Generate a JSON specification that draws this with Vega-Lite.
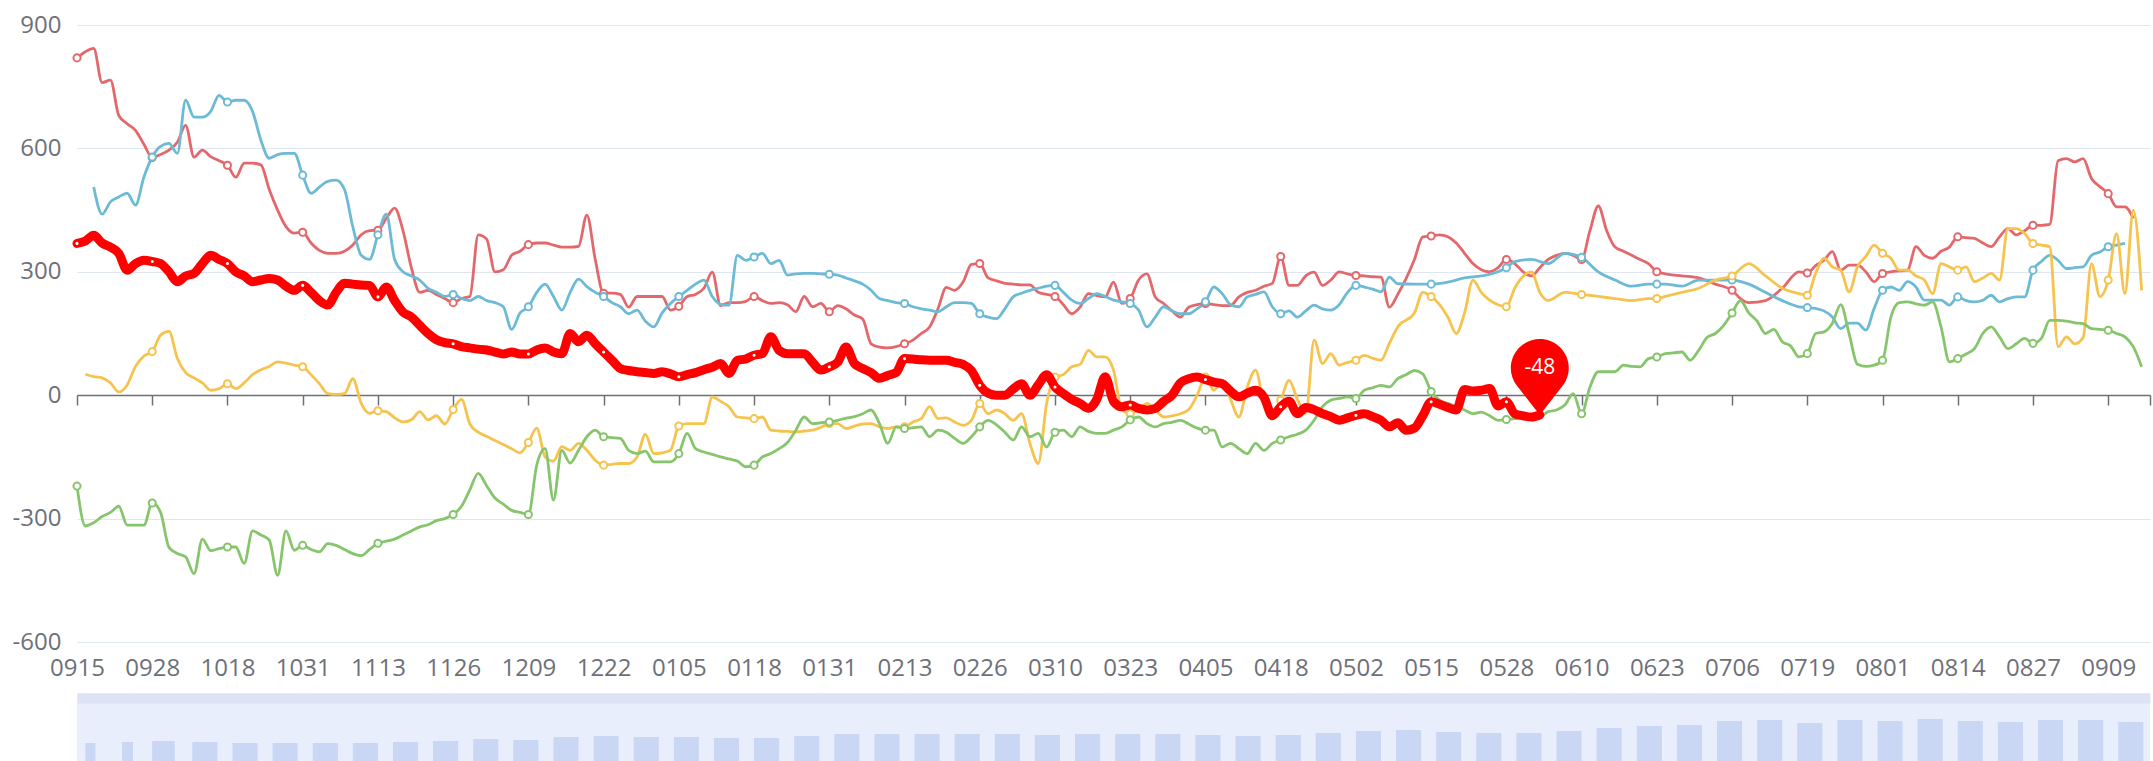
{
"$schema":"https://vega.github.io/schema/vega-lite/v6.json",
"background":"white",
"padding":{"left":0,"top":13,"right":3,"bottom":0},
"config":{"view":{"stroke":null},"font":"Open Sans","axis":{"labelFont":"Open Sans","labelColor":"#6e7079","labelFontSize":24}},
"datasets":{
"A":[{"i":0,"v":820},{"i":1,"v":835},{"i":2,"v":843},{"i":3,"v":760},{"i":4,"v":766},{"i":5,"v":680},{"i":6,"v":660},{"i":7,"v":644},{"i":8,"v":610},{"i":9,"v":578},{"i":10,"v":585},{"i":11,"v":596},{"i":12,"v":615},{"i":13,"v":656},{"i":14,"v":579},{"i":15,"v":596},{"i":16,"v":580},{"i":17,"v":570},{"i":18,"v":559},{"i":19,"v":530},{"i":20,"v":564},{"i":21,"v":564},{"i":22,"v":560},{"i":23,"v":500},{"i":24,"v":450},{"i":25,"v":410},{"i":26,"v":394},{"i":27,"v":396},{"i":28,"v":370},{"i":29,"v":352},{"i":30,"v":345},{"i":31,"v":345},{"i":32,"v":350},{"i":33,"v":365},{"i":34,"v":390},{"i":35,"v":400},{"i":36,"v":401},{"i":37,"v":430},{"i":38,"v":455},{"i":39,"v":400},{"i":40,"v":310},{"i":41,"v":250},{"i":42,"v":255},{"i":43,"v":245},{"i":44,"v":235},{"i":45,"v":225},{"i":46,"v":235},{"i":47,"v":240},{"i":48,"v":390},{"i":49,"v":380},{"i":50,"v":300},{"i":51,"v":305},{"i":52,"v":340},{"i":53,"v":350},{"i":54,"v":366},{"i":55,"v":370},{"i":56,"v":370},{"i":57,"v":365},{"i":58,"v":360},{"i":59,"v":360},{"i":60,"v":362},{"i":61,"v":438},{"i":62,"v":330},{"i":63,"v":248},{"i":64,"v":248},{"i":65,"v":245},{"i":66,"v":214},{"i":67,"v":240},{"i":68,"v":240},{"i":69,"v":240},{"i":70,"v":240},{"i":71,"v":207},{"i":72,"v":216},{"i":73,"v":240},{"i":74,"v":245},{"i":75,"v":260},{"i":76,"v":299},{"i":77,"v":218},{"i":78,"v":225},{"i":79,"v":225},{"i":80,"v":228},{"i":81,"v":240},{"i":82,"v":230},{"i":83,"v":223},{"i":84,"v":225},{"i":85,"v":220},{"i":86,"v":203},{"i":87,"v":240},{"i":88,"v":215},{"i":89,"v":223},{"i":90,"v":203},{"i":91,"v":218},{"i":92,"v":210},{"i":93,"v":195},{"i":94,"v":185},{"i":95,"v":125},{"i":96,"v":117},{"i":97,"v":115},{"i":98,"v":118},{"i":99,"v":125},{"i":100,"v":134},{"i":101,"v":150},{"i":102,"v":166},{"i":103,"v":210},{"i":104,"v":262},{"i":105,"v":255},{"i":106,"v":275},{"i":107,"v":318},{"i":108,"v":320},{"i":109,"v":285},{"i":110,"v":278},{"i":111,"v":272},{"i":112,"v":270},{"i":113,"v":268},{"i":114,"v":268},{"i":115,"v":250},{"i":116,"v":245},{"i":117,"v":240},{"i":118,"v":220},{"i":119,"v":198},{"i":120,"v":214},{"i":121,"v":247},{"i":122,"v":242},{"i":123,"v":239},{"i":124,"v":275},{"i":125,"v":223},{"i":126,"v":235},{"i":127,"v":280},{"i":128,"v":295},{"i":129,"v":239},{"i":130,"v":223},{"i":131,"v":205},{"i":132,"v":190},{"i":133,"v":214},{"i":134,"v":220},{"i":135,"v":223},{"i":136,"v":220},{"i":137,"v":218},{"i":138,"v":218},{"i":139,"v":239},{"i":140,"v":250},{"i":141,"v":255},{"i":142,"v":265},{"i":143,"v":272},{"i":144,"v":337},{"i":145,"v":267},{"i":146,"v":267},{"i":147,"v":290},{"i":148,"v":299},{"i":149,"v":267},{"i":150,"v":280},{"i":151,"v":300},{"i":152,"v":295},{"i":153,"v":291},{"i":154,"v":290},{"i":155,"v":288},{"i":156,"v":287},{"i":157,"v":214},{"i":158,"v":245},{"i":160,"v":330},{"i":161,"v":385},{"i":162,"v":387},{"i":163,"v":390},{"i":164,"v":385},{"i":165,"v":370},{"i":166,"v":345},{"i":167,"v":320},{"i":168,"v":305},{"i":169,"v":300},{"i":170,"v":310},{"i":171,"v":330},{"i":172,"v":320},{"i":173,"v":300},{"i":174,"v":290},{"i":175,"v":310},{"i":176,"v":330},{"i":177,"v":340},{"i":178,"v":345},{"i":179,"v":340},{"i":180,"v":330},{"i":181,"v":400},{"i":182,"v":460},{"i":183,"v":400},{"i":184,"v":360},{"i":185,"v":350},{"i":186,"v":340},{"i":187,"v":330},{"i":188,"v":320},{"i":189,"v":300},{"i":190,"v":295},{"i":192,"v":290},{"i":194,"v":285},{"i":196,"v":270},{"i":198,"v":255},{"i":199,"v":235},{"i":200,"v":225},{"i":202,"v":230},{"i":204,"v":260},{"i":206,"v":300},{"i":207,"v":297},{"i":208,"v":315},{"i":209,"v":328},{"i":210,"v":349},{"i":211,"v":304},{"i":212,"v":316},{"i":213,"v":316},{"i":214,"v":300},{"i":215,"v":276},{"i":216,"v":296},{"i":217,"v":300},{"i":218,"v":302},{"i":219,"v":304},{"i":220,"v":361},{"i":221,"v":340},{"i":222,"v":333},{"i":223,"v":350},{"i":224,"v":360},{"i":225,"v":385},{"i":226,"v":383},{"i":227,"v":381},{"i":228,"v":370},{"i":229,"v":361},{"i":230,"v":385},{"i":231,"v":405},{"i":232,"v":390},{"i":233,"v":400},{"i":234,"v":413},{"i":235,"v":413},{"i":236,"v":415},{"i":237,"v":570},{"i":238,"v":575},{"i":239,"v":567},{"i":240,"v":575},{"i":241,"v":527},{"i":242,"v":507},{"i":243,"v":490},{"i":244,"v":458},{"i":245,"v":458},{"i":246,"v":430}],
"B":[{"i":2,"v":506},{"i":3,"v":440},{"i":4,"v":470},{"i":5,"v":482},{"i":6,"v":491},{"i":7,"v":462},{"i":8,"v":530},{"i":9,"v":579},{"i":10,"v":605},{"i":11,"v":612},{"i":12,"v":588},{"i":13,"v":717},{"i":14,"v":676},{"i":15,"v":676},{"i":16,"v":690},{"i":17,"v":729},{"i":18,"v":713},{"i":19,"v":717},{"i":20,"v":717},{"i":21,"v":690},{"i":22,"v":620},{"i":23,"v":576},{"i":24,"v":585},{"i":25,"v":588},{"i":26,"v":588},{"i":27,"v":535},{"i":28,"v":491},{"i":29,"v":506},{"i":30,"v":520},{"i":31,"v":523},{"i":32,"v":500},{"i":33,"v":409},{"i":34,"v":340},{"i":35,"v":330},{"i":36,"v":390},{"i":37,"v":440},{"i":38,"v":330},{"i":39,"v":300},{"i":40,"v":290},{"i":41,"v":280},{"i":42,"v":260},{"i":43,"v":250},{"i":44,"v":240},{"i":45,"v":245},{"i":46,"v":235},{"i":47,"v":230},{"i":48,"v":240},{"i":49,"v":230},{"i":50,"v":225},{"i":51,"v":215},{"i":52,"v":160},{"i":53,"v":200},{"i":54,"v":215},{"i":55,"v":250},{"i":56,"v":270},{"i":57,"v":240},{"i":58,"v":207},{"i":59,"v":250},{"i":60,"v":282},{"i":61,"v":264},{"i":62,"v":250},{"i":63,"v":240},{"i":64,"v":225},{"i":65,"v":215},{"i":66,"v":198},{"i":67,"v":207},{"i":68,"v":180},{"i":69,"v":166},{"i":70,"v":200},{"i":71,"v":223},{"i":72,"v":240},{"i":73,"v":255},{"i":74,"v":270},{"i":75,"v":280},{"i":76,"v":240},{"i":77,"v":221},{"i":78,"v":219},{"i":79,"v":340},{"i":80,"v":328},{"i":81,"v":336},{"i":82,"v":345},{"i":83,"v":320},{"i":84,"v":328},{"i":85,"v":292},{"i":86,"v":295},{"i":87,"v":296},{"i":88,"v":296},{"i":89,"v":295},{"i":90,"v":294},{"i":91,"v":292},{"i":92,"v":285},{"i":93,"v":278},{"i":94,"v":270},{"i":95,"v":255},{"i":96,"v":235},{"i":97,"v":230},{"i":98,"v":225},{"i":99,"v":223},{"i":100,"v":215},{"i":101,"v":210},{"i":102,"v":207},{"i":103,"v":203},{"i":104,"v":215},{"i":105,"v":225},{"i":106,"v":225},{"i":107,"v":223},{"i":108,"v":198},{"i":109,"v":190},{"i":110,"v":186},{"i":111,"v":210},{"i":112,"v":239},{"i":113,"v":248},{"i":114,"v":255},{"i":115,"v":260},{"i":116,"v":265},{"i":117,"v":267},{"i":118,"v":250},{"i":119,"v":231},{"i":120,"v":223},{"i":121,"v":235},{"i":122,"v":247},{"i":123,"v":240},{"i":124,"v":231},{"i":125,"v":227},{"i":126,"v":223},{"i":127,"v":207},{"i":128,"v":166},{"i":129,"v":190},{"i":130,"v":215},{"i":131,"v":205},{"i":132,"v":198},{"i":133,"v":198},{"i":134,"v":210},{"i":135,"v":227},{"i":136,"v":263},{"i":137,"v":247},{"i":138,"v":220},{"i":139,"v":215},{"i":140,"v":239},{"i":141,"v":245},{"i":142,"v":251},{"i":143,"v":215},{"i":144,"v":198},{"i":145,"v":205},{"i":146,"v":190},{"i":147,"v":205},{"i":148,"v":219},{"i":149,"v":210},{"i":150,"v":207},{"i":151,"v":220},{"i":152,"v":250},{"i":153,"v":267},{"i":154,"v":263},{"i":155,"v":258},{"i":156,"v":251},{"i":157,"v":287},{"i":158,"v":271},{"i":160,"v":270},{"i":162,"v":270},{"i":164,"v":275},{"i":166,"v":285},{"i":168,"v":290},{"i":170,"v":300},{"i":171,"v":310},{"i":172,"v":325},{"i":174,"v":330},{"i":176,"v":320},{"i":178,"v":345},{"i":180,"v":335},{"i":182,"v":300},{"i":184,"v":280},{"i":186,"v":265},{"i":188,"v":270},{"i":189,"v":270},{"i":190,"v":270},{"i":192,"v":265},{"i":194,"v":280},{"i":196,"v":280},{"i":198,"v":280},{"i":200,"v":270},{"i":202,"v":250},{"i":204,"v":230},{"i":206,"v":215},{"i":207,"v":213},{"i":208,"v":211},{"i":209,"v":205},{"i":210,"v":190},{"i":211,"v":162},{"i":212,"v":175},{"i":213,"v":175},{"i":214,"v":158},{"i":215,"v":211},{"i":216,"v":255},{"i":217,"v":263},{"i":218,"v":255},{"i":219,"v":276},{"i":220,"v":263},{"i":221,"v":231},{"i":222,"v":231},{"i":223,"v":231},{"i":224,"v":219},{"i":225,"v":239},{"i":226,"v":230},{"i":227,"v":227},{"i":228,"v":231},{"i":229,"v":243},{"i":230,"v":227},{"i":231,"v":235},{"i":232,"v":239},{"i":233,"v":239},{"i":234,"v":304},{"i":235,"v":325},{"i":236,"v":340},{"i":237,"v":328},{"i":238,"v":308},{"i":239,"v":310},{"i":240,"v":312},{"i":241,"v":340},{"i":242,"v":348},{"i":243,"v":361},{"i":244,"v":365},{"i":245,"v":369}],
"C":[{"i":1,"v":51},{"i":2,"v":45},{"i":3,"v":42},{"i":4,"v":30},{"i":5,"v":8},{"i":6,"v":25},{"i":7,"v":70},{"i":8,"v":95},{"i":9,"v":106},{"i":10,"v":146},{"i":11,"v":155},{"i":12,"v":90},{"i":13,"v":55},{"i":14,"v":42},{"i":15,"v":30},{"i":16,"v":12},{"i":17,"v":16},{"i":18,"v":28},{"i":19,"v":16},{"i":20,"v":30},{"i":21,"v":50},{"i":22,"v":62},{"i":23,"v":70},{"i":24,"v":81},{"i":25,"v":78},{"i":26,"v":73},{"i":27,"v":69},{"i":28,"v":50},{"i":29,"v":28},{"i":30,"v":4},{"i":31,"v":2},{"i":32,"v":4},{"i":33,"v":40},{"i":34,"v":-20},{"i":35,"v":-44},{"i":36,"v":-38},{"i":37,"v":-40},{"i":38,"v":-55},{"i":39,"v":-65},{"i":40,"v":-60},{"i":41,"v":-40},{"i":42,"v":-60},{"i":43,"v":-50},{"i":44,"v":-70},{"i":45,"v":-35},{"i":46,"v":-10},{"i":47,"v":-70},{"i":48,"v":-90},{"i":49,"v":-100},{"i":50,"v":-110},{"i":51,"v":-120},{"i":52,"v":-130},{"i":53,"v":-140},{"i":54,"v":-115},{"i":55,"v":-80},{"i":56,"v":-150},{"i":57,"v":-160},{"i":58,"v":-125},{"i":59,"v":-134},{"i":60,"v":-117},{"i":61,"v":-134},{"i":62,"v":-158},{"i":63,"v":-170},{"i":64,"v":-168},{"i":65,"v":-166},{"i":66,"v":-166},{"i":67,"v":-150},{"i":68,"v":-95},{"i":69,"v":-142},{"i":70,"v":-140},{"i":71,"v":-134},{"i":72,"v":-75},{"i":73,"v":-69},{"i":74,"v":-69},{"i":75,"v":-69},{"i":76,"v":-4},{"i":77,"v":-15},{"i":78,"v":-28},{"i":79,"v":-53},{"i":80,"v":-55},{"i":81,"v":-57},{"i":82,"v":-53},{"i":83,"v":-85},{"i":84,"v":-87},{"i":85,"v":-88},{"i":86,"v":-89},{"i":87,"v":-87},{"i":88,"v":-85},{"i":89,"v":-78},{"i":90,"v":-69},{"i":91,"v":-69},{"i":92,"v":-81},{"i":93,"v":-75},{"i":94,"v":-70},{"i":95,"v":-69},{"i":96,"v":-77},{"i":97,"v":-81},{"i":98,"v":-77},{"i":99,"v":-77},{"i":100,"v":-65},{"i":101,"v":-57},{"i":102,"v":-28},{"i":103,"v":-57},{"i":104,"v":-55},{"i":105,"v":-65},{"i":106,"v":-73},{"i":107,"v":-61},{"i":108,"v":-20},{"i":109,"v":-45},{"i":110,"v":-36},{"i":111,"v":-45},{"i":112,"v":-61},{"i":113,"v":-45},{"i":114,"v":-117},{"i":115,"v":-166},{"i":116,"v":-20},{"i":117,"v":44},{"i":118,"v":50},{"i":119,"v":69},{"i":120,"v":75},{"i":121,"v":109},{"i":122,"v":93},{"i":123,"v":93},{"i":124,"v":61},{"i":125,"v":-36},{"i":126,"v":-45},{"i":127,"v":-35},{"i":128,"v":-20},{"i":129,"v":-35},{"i":130,"v":-53},{"i":131,"v":-50},{"i":132,"v":-45},{"i":133,"v":-35},{"i":134,"v":0},{"i":135,"v":44},{"i":136,"v":12},{"i":137,"v":36},{"i":138,"v":-10},{"i":139,"v":-53},{"i":140,"v":20},{"i":141,"v":61},{"i":142,"v":-20},{"i":143,"v":-45},{"i":144,"v":-12},{"i":145,"v":36},{"i":146,"v":-10},{"i":147,"v":-45},{"i":148,"v":134},{"i":149,"v":77},{"i":150,"v":101},{"i":151,"v":73},{"i":152,"v":80},{"i":153,"v":85},{"i":154,"v":97},{"i":155,"v":90},{"i":156,"v":85},{"i":157,"v":126},{"i":158,"v":166},{"i":160,"v":200},{"i":161,"v":250},{"i":162,"v":240},{"i":164,"v":190},{"i":165,"v":150},{"i":166,"v":200},{"i":167,"v":280},{"i":168,"v":250},{"i":170,"v":220},{"i":171,"v":215},{"i":172,"v":260},{"i":174,"v":300},{"i":175,"v":250},{"i":176,"v":230},{"i":178,"v":250},{"i":180,"v":245},{"i":182,"v":240},{"i":184,"v":235},{"i":186,"v":230},{"i":188,"v":235},{"i":189,"v":235},{"i":190,"v":240},{"i":192,"v":250},{"i":194,"v":260},{"i":196,"v":280},{"i":198,"v":290},{"i":200,"v":320},{"i":202,"v":290},{"i":204,"v":260},{"i":206,"v":247},{"i":207,"v":243},{"i":208,"v":296},{"i":209,"v":333},{"i":210,"v":312},{"i":211,"v":304},{"i":212,"v":251},{"i":213,"v":312},{"i":214,"v":337},{"i":215,"v":365},{"i":216,"v":345},{"i":217,"v":333},{"i":218,"v":304},{"i":219,"v":304},{"i":220,"v":290},{"i":221,"v":280},{"i":222,"v":247},{"i":223,"v":320},{"i":224,"v":312},{"i":225,"v":304},{"i":226,"v":312},{"i":227,"v":276},{"i":228,"v":285},{"i":229,"v":296},{"i":230,"v":280},{"i":231,"v":405},{"i":232,"v":405},{"i":233,"v":393},{"i":234,"v":369},{"i":235,"v":365},{"i":236,"v":361},{"i":237,"v":118},{"i":238,"v":142},{"i":239,"v":125},{"i":240,"v":140},{"i":241,"v":320},{"i":242,"v":240},{"i":243,"v":280},{"i":244,"v":393},{"i":245,"v":247},{"i":246,"v":450},{"i":247,"v":255}],
"D":[{"i":0,"v":-221},{"i":1,"v":-318},{"i":2,"v":-310},{"i":3,"v":-295},{"i":4,"v":-285},{"i":5,"v":-270},{"i":6,"v":-316},{"i":7,"v":-316},{"i":8,"v":-316},{"i":9,"v":-262},{"i":10,"v":-285},{"i":11,"v":-370},{"i":12,"v":-385},{"i":13,"v":-393},{"i":14,"v":-434},{"i":15,"v":-350},{"i":16,"v":-378},{"i":17,"v":-373},{"i":18,"v":-369},{"i":19,"v":-369},{"i":20,"v":-409},{"i":21,"v":-330},{"i":22,"v":-340},{"i":23,"v":-352},{"i":24,"v":-438},{"i":25,"v":-330},{"i":26,"v":-377},{"i":27,"v":-365},{"i":28,"v":-375},{"i":29,"v":-381},{"i":30,"v":-361},{"i":31,"v":-365},{"i":32,"v":-375},{"i":33,"v":-385},{"i":34,"v":-390},{"i":35,"v":-375},{"i":36,"v":-360},{"i":37,"v":-355},{"i":38,"v":-350},{"i":39,"v":-340},{"i":40,"v":-330},{"i":41,"v":-320},{"i":42,"v":-315},{"i":43,"v":-305},{"i":44,"v":-300},{"i":45,"v":-290},{"i":46,"v":-270},{"i":47,"v":-230},{"i":48,"v":-190},{"i":49,"v":-220},{"i":50,"v":-250},{"i":51,"v":-265},{"i":52,"v":-280},{"i":53,"v":-285},{"i":54,"v":-290},{"i":55,"v":-170},{"i":56,"v":-130},{"i":57,"v":-255},{"i":58,"v":-134},{"i":59,"v":-165},{"i":60,"v":-134},{"i":61,"v":-101},{"i":62,"v":-85},{"i":63,"v":-101},{"i":64,"v":-103},{"i":65,"v":-105},{"i":66,"v":-134},{"i":67,"v":-142},{"i":68,"v":-136},{"i":69,"v":-162},{"i":70,"v":-162},{"i":71,"v":-162},{"i":72,"v":-142},{"i":73,"v":-93},{"i":74,"v":-130},{"i":75,"v":-138},{"i":76,"v":-144},{"i":77,"v":-150},{"i":78,"v":-155},{"i":79,"v":-160},{"i":80,"v":-174},{"i":81,"v":-170},{"i":82,"v":-150},{"i":83,"v":-142},{"i":84,"v":-130},{"i":85,"v":-115},{"i":86,"v":-85},{"i":87,"v":-53},{"i":88,"v":-69},{"i":89,"v":-67},{"i":90,"v":-65},{"i":91,"v":-61},{"i":92,"v":-56},{"i":93,"v":-52},{"i":94,"v":-45},{"i":95,"v":-36},{"i":96,"v":-69},{"i":97,"v":-117},{"i":98,"v":-77},{"i":99,"v":-81},{"i":100,"v":-79},{"i":101,"v":-77},{"i":102,"v":-101},{"i":103,"v":-85},{"i":104,"v":-90},{"i":105,"v":-105},{"i":106,"v":-117},{"i":107,"v":-101},{"i":108,"v":-77},{"i":109,"v":-61},{"i":110,"v":-72},{"i":111,"v":-90},{"i":112,"v":-109},{"i":113,"v":-77},{"i":114,"v":-101},{"i":115,"v":-93},{"i":116,"v":-126},{"i":117,"v":-90},{"i":118,"v":-85},{"i":119,"v":-101},{"i":120,"v":-77},{"i":121,"v":-88},{"i":122,"v":-93},{"i":123,"v":-93},{"i":124,"v":-85},{"i":125,"v":-77},{"i":126,"v":-60},{"i":127,"v":-53},{"i":128,"v":-69},{"i":129,"v":-77},{"i":130,"v":-69},{"i":131,"v":-66},{"i":132,"v":-61},{"i":133,"v":-70},{"i":134,"v":-80},{"i":135,"v":-85},{"i":136,"v":-85},{"i":137,"v":-126},{"i":138,"v":-117},{"i":139,"v":-130},{"i":140,"v":-142},{"i":141,"v":-117},{"i":142,"v":-134},{"i":143,"v":-117},{"i":144,"v":-109},{"i":145,"v":-101},{"i":146,"v":-95},{"i":147,"v":-85},{"i":148,"v":-61},{"i":149,"v":-28},{"i":150,"v":-12},{"i":151,"v":-8},{"i":152,"v":-4},{"i":153,"v":-8},{"i":154,"v":12},{"i":155,"v":18},{"i":156,"v":24},{"i":157,"v":20},{"i":158,"v":40},{"i":159,"v":50},{"i":160,"v":60},{"i":161,"v":52},{"i":162,"v":9},{"i":163,"v":-12},{"i":164,"v":-20},{"i":165,"v":-28},{"i":166,"v":-36},{"i":167,"v":-45},{"i":168,"v":-41},{"i":169,"v":-50},{"i":170,"v":-61},{"i":171,"v":-59},{"i":172,"v":-57},{"i":173,"v":-55},{"i":174,"v":-54},{"i":175,"v":-53},{"i":176,"v":-40},{"i":177,"v":-36},{"i":178,"v":-24},{"i":179,"v":4},{"i":180,"v":-45},{"i":181,"v":20},{"i":182,"v":57},{"i":183,"v":57},{"i":184,"v":57},{"i":185,"v":73},{"i":186,"v":70},{"i":187,"v":69},{"i":188,"v":89},{"i":189,"v":93},{"i":190,"v":101},{"i":191,"v":103},{"i":192,"v":105},{"i":193,"v":85},{"i":194,"v":109},{"i":195,"v":140},{"i":196,"v":150},{"i":197,"v":170},{"i":198,"v":200},{"i":199,"v":230},{"i":200,"v":200},{"i":201,"v":180},{"i":202,"v":150},{"i":203,"v":160},{"i":204,"v":130},{"i":205,"v":120},{"i":206,"v":93},{"i":207,"v":101},{"i":208,"v":150},{"i":209,"v":154},{"i":210,"v":175},{"i":211,"v":220},{"i":212,"v":150},{"i":213,"v":75},{"i":214,"v":70},{"i":215,"v":73},{"i":216,"v":85},{"i":217,"v":190},{"i":218,"v":225},{"i":219,"v":227},{"i":220,"v":222},{"i":221,"v":219},{"i":222,"v":227},{"i":223,"v":166},{"i":224,"v":81},{"i":225,"v":89},{"i":226,"v":100},{"i":227,"v":113},{"i":228,"v":150},{"i":229,"v":166},{"i":230,"v":142},{"i":231,"v":113},{"i":232,"v":125},{"i":233,"v":138},{"i":234,"v":126},{"i":235,"v":138},{"i":236,"v":182},{"i":237,"v":182},{"i":238,"v":180},{"i":239,"v":176},{"i":240,"v":174},{"i":241,"v":162},{"i":242,"v":160},{"i":243,"v":158},{"i":244,"v":150},{"i":245,"v":142},{"i":246,"v":118},{"i":247,"v":69}],
"E":[{"i":0,"v":369},{"i":1,"v":375},{"i":2,"v":389},{"i":3,"v":370},{"i":4,"v":360},{"i":5,"v":345},{"i":6,"v":304},{"i":7,"v":320},{"i":8,"v":328},{"i":9,"v":325},{"i":10,"v":320},{"i":11,"v":300},{"i":12,"v":276},{"i":13,"v":290},{"i":14,"v":296},{"i":15,"v":320},{"i":16,"v":340},{"i":17,"v":330},{"i":18,"v":320},{"i":19,"v":300},{"i":20,"v":290},{"i":21,"v":276},{"i":22,"v":280},{"i":23,"v":284},{"i":24,"v":280},{"i":25,"v":265},{"i":26,"v":255},{"i":27,"v":267},{"i":28,"v":250},{"i":29,"v":230},{"i":30,"v":219},{"i":31,"v":250},{"i":32,"v":272},{"i":33,"v":270},{"i":34,"v":268},{"i":35,"v":267},{"i":36,"v":239},{"i":37,"v":263},{"i":38,"v":230},{"i":39,"v":202},{"i":40,"v":190},{"i":41,"v":170},{"i":42,"v":150},{"i":43,"v":135},{"i":44,"v":128},{"i":45,"v":125},{"i":46,"v":118},{"i":47,"v":115},{"i":48,"v":112},{"i":49,"v":110},{"i":50,"v":105},{"i":51,"v":100},{"i":52,"v":105},{"i":53,"v":100},{"i":54,"v":100},{"i":55,"v":110},{"i":56,"v":115},{"i":57,"v":105},{"i":58,"v":101},{"i":59,"v":150},{"i":60,"v":130},{"i":61,"v":146},{"i":62,"v":125},{"i":63,"v":105},{"i":64,"v":85},{"i":65,"v":65},{"i":66,"v":60},{"i":67,"v":57},{"i":68,"v":55},{"i":69,"v":53},{"i":70,"v":57},{"i":71,"v":52},{"i":72,"v":45},{"i":73,"v":50},{"i":74,"v":55},{"i":75,"v":62},{"i":76,"v":68},{"i":77,"v":77},{"i":78,"v":53},{"i":79,"v":85},{"i":80,"v":88},{"i":81,"v":97},{"i":82,"v":101},{"i":83,"v":142},{"i":84,"v":109},{"i":85,"v":101},{"i":86,"v":101},{"i":87,"v":101},{"i":88,"v":80},{"i":89,"v":61},{"i":90,"v":69},{"i":91,"v":80},{"i":92,"v":117},{"i":93,"v":77},{"i":94,"v":65},{"i":95,"v":55},{"i":96,"v":41},{"i":97,"v":48},{"i":98,"v":55},{"i":99,"v":89},{"i":100,"v":88},{"i":101,"v":86},{"i":102,"v":85},{"i":103,"v":85},{"i":104,"v":85},{"i":105,"v":80},{"i":106,"v":75},{"i":107,"v":60},{"i":108,"v":24},{"i":109,"v":5},{"i":110,"v":0},{"i":111,"v":0},{"i":112,"v":15},{"i":113,"v":28},{"i":114,"v":0},{"i":115,"v":25},{"i":116,"v":50},{"i":117,"v":20},{"i":118,"v":4},{"i":119,"v":-10},{"i":120,"v":-20},{"i":121,"v":-32},{"i":122,"v":-10},{"i":123,"v":45},{"i":124,"v":-15},{"i":125,"v":-28},{"i":126,"v":-24},{"i":127,"v":-32},{"i":128,"v":-36},{"i":129,"v":-32},{"i":130,"v":-15},{"i":131,"v":0},{"i":132,"v":30},{"i":133,"v":40},{"i":134,"v":44},{"i":135,"v":38},{"i":136,"v":32},{"i":137,"v":28},{"i":138,"v":10},{"i":139,"v":-4},{"i":140,"v":5},{"i":141,"v":12},{"i":142,"v":-5},{"i":143,"v":-50},{"i":144,"v":-28},{"i":145,"v":-15},{"i":146,"v":-45},{"i":147,"v":-30},{"i":148,"v":-35},{"i":149,"v":-45},{"i":150,"v":-52},{"i":151,"v":-61},{"i":152,"v":-55},{"i":153,"v":-49},{"i":154,"v":-45},{"i":155,"v":-52},{"i":156,"v":-61},{"i":157,"v":-77},{"i":158,"v":-67},{"i":159,"v":-85},{"i":160,"v":-80},{"i":161,"v":-50},{"i":162,"v":-16},{"i":163,"v":-22},{"i":164,"v":-30},{"i":165,"v":-36},{"i":166,"v":14},{"i":167,"v":10},{"i":168,"v":12},{"i":169,"v":16},{"i":170,"v":-26},{"i":171,"v":-16},{"i":172,"v":-45},{"i":173,"v":-50},{"i":174,"v":-53},{"i":175,"v":-48}],
"pin":[{"i":175,"v":-48,"t":"-48"}],
"shadow":[{"a":1,"b":2.2,"h":18},{"a":5.4,"b":6.7,"h":19},{"a":9,"b":11.7,"h":20},{"a":13.8,"b":16.8,"h":19},{"a":18.6,"b":21.6,"h":18},{"a":23.4,"b":26.4,"h":18},{"a":28.2,"b":31.2,"h":18},{"a":33,"b":36,"h":18},{"a":37.8,"b":40.8,"h":19},{"a":42.6,"b":45.6,"h":20},{"a":47.4,"b":50.4,"h":22},{"a":52.2,"b":55.2,"h":21},{"a":57,"b":60,"h":24},{"a":61.8,"b":64.8,"h":25},{"a":66.6,"b":69.6,"h":24},{"a":71.4,"b":74.4,"h":24},{"a":76.2,"b":79.2,"h":23},{"a":81,"b":84,"h":23},{"a":85.8,"b":88.8,"h":25},{"a":90.6,"b":93.6,"h":27},{"a":95.4,"b":98.4,"h":27},{"a":100.2,"b":103.2,"h":27},{"a":105,"b":108,"h":27},{"a":109.8,"b":112.8,"h":27},{"a":114.6,"b":117.6,"h":26},{"a":119.4,"b":122.4,"h":27},{"a":124.2,"b":127.2,"h":27},{"a":129,"b":132,"h":27},{"a":133.8,"b":136.8,"h":26},{"a":138.6,"b":141.6,"h":25},{"a":143.4,"b":146.4,"h":26},{"a":148.2,"b":151.2,"h":28},{"a":153,"b":156,"h":30},{"a":157.8,"b":160.8,"h":31},{"a":162.6,"b":165.6,"h":29},{"a":167.4,"b":170.4,"h":28},{"a":172.2,"b":175.2,"h":28},{"a":177,"b":180,"h":30},{"a":181.8,"b":184.8,"h":33},{"a":186.6,"b":189.6,"h":35},{"a":191.4,"b":194.4,"h":36},{"a":196.2,"b":199.2,"h":40},{"a":201,"b":204,"h":41},{"a":205.8,"b":208.8,"h":38},{"a":210.6,"b":213.6,"h":41},{"a":215.4,"b":218.4,"h":40},{"a":220.2,"b":223.2,"h":42},{"a":225,"b":228,"h":40},{"a":229.8,"b":232.8,"h":39},{"a":234.6,"b":237.6,"h":41},{"a":239.4,"b":242.4,"h":41},{"a":244.2,"b":247.2,"h":39}]
},
"bounds":"flush",
"spacing":51,
"vconcat":[
{"width":2073,"height":617,
 "resolve":{"axis":{"x":"independent"}},
 "layer":[
  {"data":{"name":"A"},"mark":{"type":"line","color":"#e4686b","strokeWidth":2.8,"interpolate":"monotone","strokeJoin":"round"},
   "encoding":{
    "x":{"field":"i","type":"quantitative","scale":{"domain":[0,248],"nice":false,"zero":false},
     "axis":{"orient":"bottom","values":[0,9,18,27,36,45,54,63,72,81,90,99,108,117,126,135,144,153,162,171,180,189,198,207,216,225,234,243],
      "labelExpr":"['0915','0928','1018','1031','1113','1126','1209','1222','0105','0118','0131','0213','0226','0310','0323','0405','0418','0502','0515','0528','0610','0623','0706','0719','0801','0814','0827','0909'][round(datum.value/9)]",
      "domain":false,"ticks":false,"grid":false,"labelPadding":14,"labelFlush":false,"labelOverlap":false,"labelBound":false,"title":null}},
    "y":{"field":"v","type":"quantitative","title":null,"scale":{"domain":[-600,900],"nice":false,"zero":false},
     "axis":{"values":[-600,-300,0,300,600,900],"labelExpr":"'' + datum.value","domain":false,"ticks":false,"grid":true,"gridColor":"#e0e6f1","gridWidth":1,"labelPadding":16,"minExtent":77,"title":null}}}},
  {"data":{"name":"B"},"mark":{"type":"line","color":"#6cbad5","strokeWidth":2.8,"interpolate":"monotone","strokeJoin":"round"},
   "encoding":{
    "x":{"field":"i","type":"quantitative","scale":{"domain":[0,248],"nice":false,"zero":false},
     "axis":{"orient":"bottom","offset":-247,"values":[0,9,18,27,36,45,54,63,72,81,90,99,108,117,126,135,144,153,162,171,180,189,198,207,216,225,234,243,248],"labels":false,"domain":true,"domainColor":"#6e7079","domainWidth":1.5,"ticks":true,"tickColor":"#6e7079","tickWidth":1.5,"tickSize":10,"grid":false,"title":null}},
    "y":{"field":"v","type":"quantitative","title":null,"scale":{"domain":[-600,900],"nice":false,"zero":false}}}},
  {"data":{"name":"C"},"mark":{"type":"line","color":"#f5c34e","strokeWidth":2.8,"interpolate":"monotone","strokeJoin":"round"},
   "encoding":{"x":{"field":"i","type":"quantitative","scale":{"domain":[0,248],"nice":false,"zero":false},"axis":null},
    "y":{"field":"v","type":"quantitative","title":null,"scale":{"domain":[-600,900],"nice":false,"zero":false}}}},
  {"data":{"name":"D"},"mark":{"type":"line","color":"#86c56c","strokeWidth":2.8,"interpolate":"monotone","strokeJoin":"round"},
   "encoding":{"x":{"field":"i","type":"quantitative","scale":{"domain":[0,248],"nice":false,"zero":false},"axis":null},
    "y":{"field":"v","type":"quantitative","title":null,"scale":{"domain":[-600,900],"nice":false,"zero":false}}}},
  {"data":{"name":"A"},"transform":[{"filter":"datum.i % 9 == 0"}],"mark":{"type":"point","filled":true,"fill":"white","stroke":"#e4686b","strokeWidth":2,"size":50,"opacity":1},
   "encoding":{"x":{"field":"i","type":"quantitative","scale":{"domain":[0,248],"nice":false,"zero":false},"axis":null},
    "y":{"field":"v","type":"quantitative","title":null,"scale":{"domain":[-600,900],"nice":false,"zero":false}}}},
  {"data":{"name":"B"},"transform":[{"filter":"datum.i % 9 == 0"}],"mark":{"type":"point","filled":true,"fill":"white","stroke":"#6cbad5","strokeWidth":2,"size":50,"opacity":1},
   "encoding":{"x":{"field":"i","type":"quantitative","scale":{"domain":[0,248],"nice":false,"zero":false},"axis":null},
    "y":{"field":"v","type":"quantitative","title":null,"scale":{"domain":[-600,900],"nice":false,"zero":false}}}},
  {"data":{"name":"C"},"transform":[{"filter":"datum.i % 9 == 0"}],"mark":{"type":"point","filled":true,"fill":"white","stroke":"#f5c34e","strokeWidth":2,"size":50,"opacity":1},
   "encoding":{"x":{"field":"i","type":"quantitative","scale":{"domain":[0,248],"nice":false,"zero":false},"axis":null},
    "y":{"field":"v","type":"quantitative","title":null,"scale":{"domain":[-600,900],"nice":false,"zero":false}}}},
  {"data":{"name":"D"},"transform":[{"filter":"datum.i % 9 == 0"}],"mark":{"type":"point","filled":true,"fill":"white","stroke":"#86c56c","strokeWidth":2,"size":50,"opacity":1},
   "encoding":{"x":{"field":"i","type":"quantitative","scale":{"domain":[0,248],"nice":false,"zero":false},"axis":null},
    "y":{"field":"v","type":"quantitative","title":null,"scale":{"domain":[-600,900],"nice":false,"zero":false}}}},
  {"data":{"name":"E"},"mark":{"type":"line","color":"#ff0000","strokeWidth":9,"interpolate":"monotone","strokeJoin":"round","strokeCap":"round"},
   "encoding":{"x":{"field":"i","type":"quantitative","scale":{"domain":[0,248],"nice":false,"zero":false},"axis":null},
    "y":{"field":"v","type":"quantitative","title":null,"scale":{"domain":[-600,900],"nice":false,"zero":false}}}},
  {"data":{"name":"E"},"transform":[{"filter":"datum.i % 9 == 0"}],"mark":{"type":"point","filled":true,"fill":"white","stroke":"#ff0000","strokeWidth":2,"size":26,"opacity":1},
   "encoding":{"x":{"field":"i","type":"quantitative","scale":{"domain":[0,248],"nice":false,"zero":false},"axis":null},
    "y":{"field":"v","type":"quantitative","title":null,"scale":{"domain":[-600,900],"nice":false,"zero":false}}}},
  {"data":{"name":"pin"},"mark":{"type":"point","shape":"M0,0L-0.486,-0.619A0.617,0.617,0,1,1,0.486,-0.619Z","size":8836,"filled":true,"fill":"#ff0000","strokeWidth":0,"opacity":1},
   "encoding":{"x":{"field":"i","type":"quantitative","scale":{"domain":[0,248],"nice":false,"zero":false},"axis":null},
    "y":{"field":"v","type":"quantitative","title":null,"scale":{"domain":[-600,900],"nice":false,"zero":false}}}},
  {"data":{"name":"pin"},"mark":{"type":"text","color":"white","fontSize":21,"font":"Open Sans","align":"center","baseline":"middle","dy":-47},
   "encoding":{"x":{"field":"i","type":"quantitative","scale":{"domain":[0,248],"nice":false,"zero":false},"axis":null},
    "y":{"field":"v","type":"quantitative","title":null,"scale":{"domain":[-600,900],"nice":false,"zero":false}},
    "text":{"field":"t"}}}
 ]},
{"width":2073,"height":68,
 "view":{"fill":"#e8eefc","stroke":null},
 "layer":[
  {"data":{"name":"shadow"},"mark":{"type":"rect","color":"#c9d6f4","opacity":1},
   "encoding":{
    "x":{"field":"a","type":"quantitative","scale":{"domain":[0,248],"nice":false,"zero":false},
     "axis":{"orient":"top","offset":-5,"domain":true,"domainColor":"#dbe3f4","domainWidth":10,"labels":false,"ticks":false,"grid":false,"title":null}},
    "x2":{"field":"b"},
    "y":{"field":"h","type":"quantitative","scale":{"domain":[0,68],"nice":false,"zero":false},"axis":null},
    "y2":{"datum":0}}},
  {"mark":{"type":"point","shape":"M-0.38,-1L0.38,-1L0.38,1L-0.38,1Z","size":1369,"filled":true,"fill":"white","stroke":"#a7b3cc","strokeWidth":1.2,"opacity":1},
   "encoding":{
    "x":{"datum":1,"type":"quantitative","scale":{"domain":[0,248],"nice":false,"zero":false}},
    "y":{"datum":27.5,"type":"quantitative","scale":{"domain":[0,68],"nice":false,"zero":false}}}}
 ]}
]
}
